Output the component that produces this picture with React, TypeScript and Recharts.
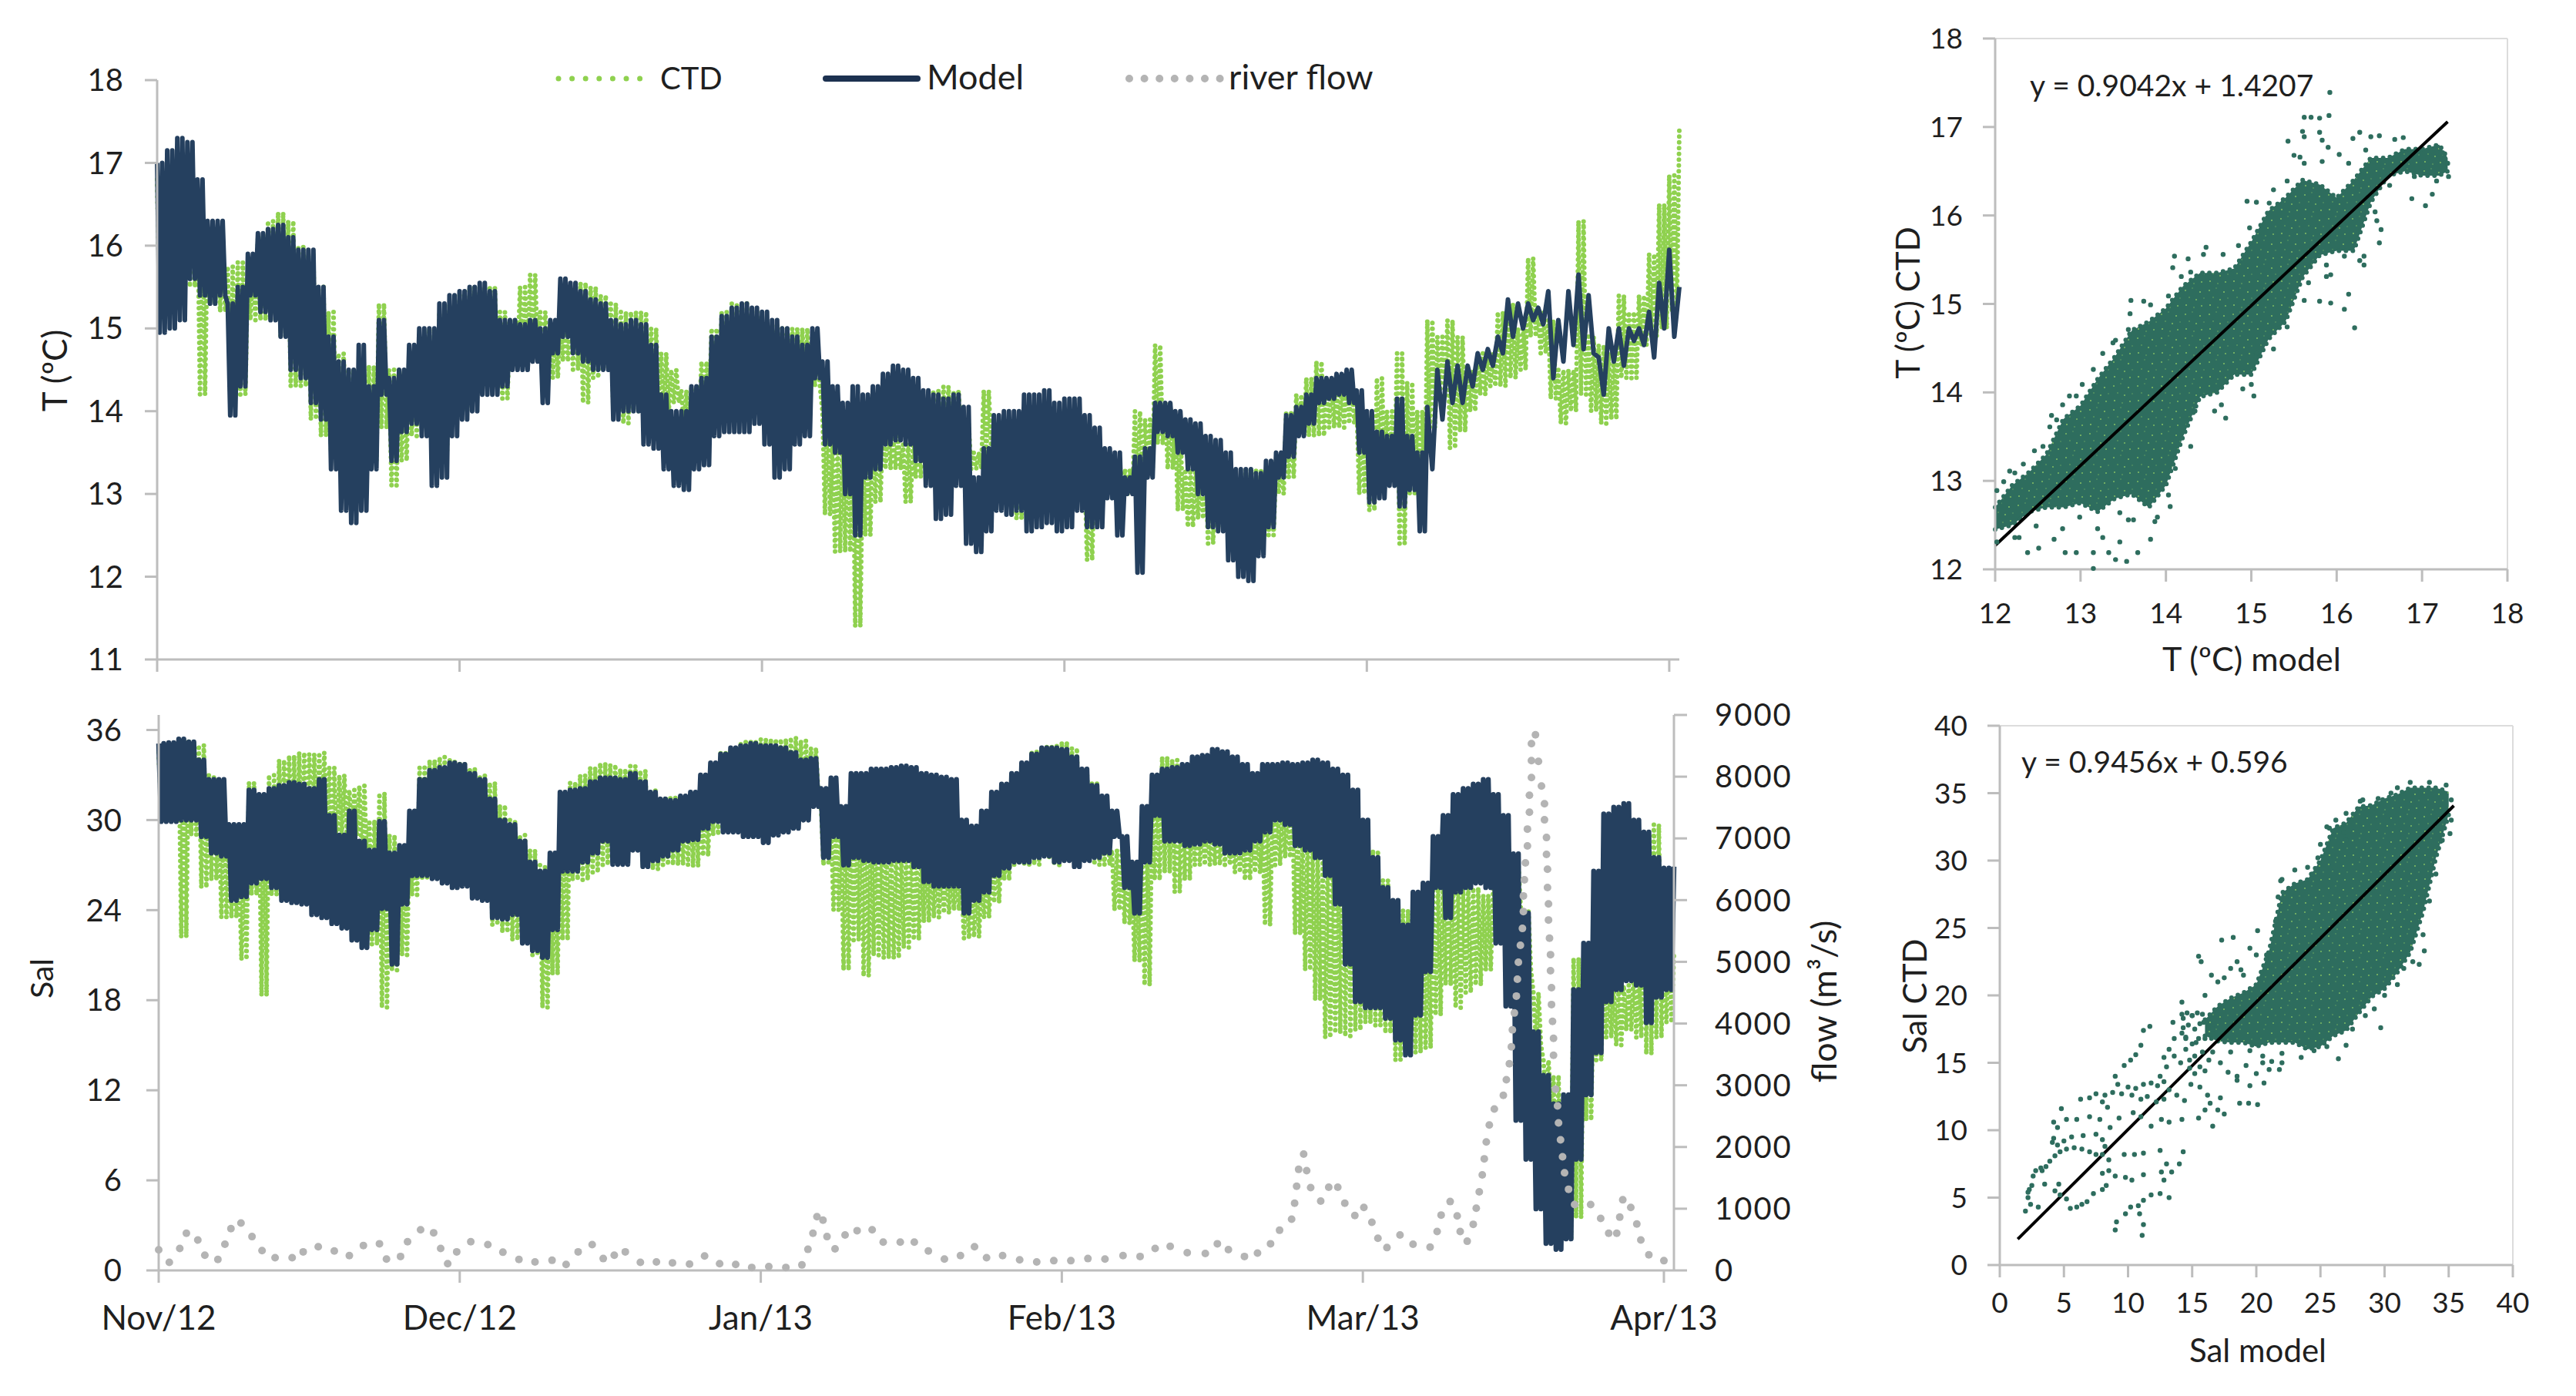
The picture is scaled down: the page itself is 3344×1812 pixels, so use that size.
// Estuary temperature / salinity: time series on the left, model vs CTD scatter on the right
import { ComposedChart, Area, Line, XAxis, YAxis, ReferenceLine } from 'recharts';

const monthLabels = ['Nov/12', 'Dec/12', 'Jan/13', 'Feb/13', 'Mar/13', 'Apr/13'];
const monthTicks = [0, 30, 60, 90, 120, 150];
const tempTicks = [11, 12, 13, 14, 15, 16, 17, 18];
const salTicks = [0, 6, 12, 18, 24, 30, 36];
const flowTicks = [0, 1000, 2000, 3000, 4000, 5000, 6000, 7000, 8000, 9000];
const scatterTempTicks = [12, 13, 14, 15, 16, 17, 18];
const scatterSalTicks = [0, 5, 10, 15, 20, 25, 30, 35, 40];

// one value per day, upper and lower edge of the tidal swing
const tempModelHi = [
  17, 17.15, 17.3, 17.25, 16.8, 16.3, 16.3, 15.3, 15.5, 15.9,
  16.15, 16.2, 16.25, 16.1, 15.95, 15.95, 15.5, 14.9, 14.6, 14.5,
  14.8, 14.3, 15.1, 14.4, 14.5, 14.8, 15, 15, 15.3, 15.4,
  15.45, 15.5, 15.55, 15.45, 15.1, 15.1, 15.05, 15.1, 15, 15.1,
  15.6, 15.55, 15.45, 15.35, 15.3, 15.1, 15.05, 15.1, 15.05, 14.8,
  14.2, 14, 14, 14.3, 14.4, 14.9, 15.15, 15.25, 15.3, 15.25,
  15.2, 15.1, 15, 14.9, 14.8, 15, 14.6, 14.3, 14.1, 14.3,
  14.2, 14.3, 14.45, 14.55, 14.5, 14.4, 14.25, 14.2, 14.15, 14.2,
  14.05, 13.2, 13.55, 13.95, 14, 14, 14.2, 14.2, 14.25, 14.1,
  14.15, 14.15, 13.95, 13.8, 13.55, 13.5, 13.2, 13.45, 13.55, 14.1,
  14.1, 14, 13.9, 13.85, 13.7, 13.65, 13.5, 13.3, 13.3, 13.25,
  13.4, 13.5, 13.95, 14.05, 14.2, 14.4, 14.4, 14.45, 14.5, 14.25,
  14, 13.75, 13.7, 14.15, 13.7, 13.5, 14.05, 14.5, 14.6, 14.55,
  14.55, 14.7, 14.75, 14.9, 15.35, 15.3, 15.3, 15.25, 15.45, 15.1,
  15.45, 15.65, 15.4, 14.65, 15, 15, 15, 15, 15.2, 15.55,
  15.95, 15.5,
];
const tempModelLo = [
  14.95, 15, 15.1, 15.6, 15.4, 15.3, 15.4, 13.95, 14.3, 15.4,
  15.2, 15.1, 14.9, 14.5, 14.4, 14.1, 13.9, 13.3, 12.8, 12.65,
  12.8, 13.3, 14.2, 13.4, 13.75, 13.85, 13.7, 13.1, 13.2, 13.7,
  13.9, 14, 14.2, 14.2, 14.3, 14.5, 14.5, 14.6, 14.1, 14.7,
  14.9, 14.7, 14.6, 14.5, 14.5, 13.9, 14, 14, 13.6, 13.55,
  13.3, 13.1, 13.05, 13.3, 13.35, 13.7, 13.75, 13.75, 13.75, 13.85,
  13.6, 13.2, 13.3, 13.6, 13.7, 14.4, 13.6, 13.5, 13, 12.5,
  13.2, 13.3, 13.6, 13.65, 13.6, 13.4, 13.1, 12.7, 12.75, 13.1,
  12.4, 12.3, 12.55, 12.8, 12.75, 12.8, 12.55, 12.6, 12.65, 12.55,
  12.6, 12.8, 12.6, 12.6, 12.95, 12.5, 13, 12.05, 13.2, 13.75,
  13.7, 13.5, 13.3, 13, 12.6, 12.55, 12.2, 12, 11.95, 12.25,
  12.6, 13.2, 13.45, 13.7, 13.85, 14.1, 14.15, 14.2, 14.1, 13.5,
  12.9, 12.95, 13.1, 12.85, 13.05, 12.55, 13.3, 13.9, 14.1, 14.1,
  14.3, 14.5, 14.55, 14.7, 14.9, 15, 15.1, 15.05, 14.4, 14.6,
  14.8, 14.75, 14.7, 14.2, 14.6, 14.55, 14.85, 14.8, 14.65, 15,
  14.9, 15.3,
];
const tempCtdHi = [
  16.8, 17, 17, 16.9, 16.5, 16.2, 16, 15.75, 15.8, 15.75,
  16.1, 16.3, 16.4, 16.3, 16, 15.9, 15.5, 15.2, 14.7, 14.5,
  14.5, 14.55, 15.3, 14.5, 14.5, 14.7, 14.9, 15, 15.2, 15.3,
  15.4, 15.5, 15.5, 15.5, 15.2, 15.1, 15.5, 15.65, 15.2, 15,
  15.2, 15.4, 15.55, 15.5, 15.4, 15.3, 15.2, 15.2, 15.2, 15,
  14.7, 14.5, 14.25, 14.3, 14.6, 15, 15.2, 15.3, 15.3, 15.2,
  15.05, 15.05, 15, 15, 15, 14.8, 14, 13.6, 13.7, 13.9,
  13.5, 14, 13.9, 13.7, 13.6, 13.7, 14.1, 14.25, 14.3, 14.25,
  13.85, 13.5, 14.25, 13.5, 13.3, 13.4, 13.6, 13.6, 13.6, 13.6,
  13.6, 13.6, 13.3, 13.4, 13.4, 13.3, 13.3, 14, 13.9, 14.8,
  14.1, 13.85, 13.3, 13.3, 13.3, 13.2, 13.2, 13.2, 13.3, 13.3,
  13.3, 13.4, 14, 14.2, 14.4, 14.6, 14.4, 14.3, 14.4, 14,
  13.9, 14.4, 14, 14.7, 14.35, 14, 15.1, 14.9, 15.1, 14.9,
  14.5, 14.7, 14.7, 15.2, 15.3, 15, 15.85, 15.2, 15.1, 14.5,
  14.5, 16.3, 14.9, 14.8, 14.7, 15.4, 15.2, 15.4, 15.9, 16.5,
  16.85, 17.4,
];
const tempCtdLo = [
  15.2, 15.3, 15.5, 15.5, 14.2, 15.3, 15.2, 14.2, 14.2, 15.1,
  15.1, 15.1, 14.9, 14.3, 14.3, 13.9, 13.7, 13.5, 13.5, 13.3,
  13.3, 13.4, 13.8, 13.1, 13.4, 13.7, 13.8, 13.5, 13.5, 13.9,
  14, 14.2, 14.4, 14.4, 14.15, 14.6, 14.6, 14.7, 14.6, 14.4,
  14.6, 14.5, 14.1, 14.4, 14.5, 14, 13.85, 14, 14, 14,
  14, 14.1, 13.8, 13.8, 14, 14.2, 14.2, 14.3, 14.3, 14.3,
  14.3, 14.3, 14.3, 14.3, 14.3, 14.3, 12.75, 12.3, 12.3, 11.4,
  12.5, 12.9, 13.3, 13.3, 12.9, 13.2, 13.4, 13.5, 13.6, 13.7,
  13.3, 13.3, 13.5, 13.2, 13, 12.7, 13, 13, 13, 13,
  13, 13, 12.2, 13, 13, 13, 13, 13, 13.3, 13.6,
  13.3, 12.8, 12.6, 12.7, 12.4, 12.6, 12.4, 12.4, 12.5, 12.5,
  12.5, 13, 13.2, 13.7, 13.7, 13.7, 13.8, 13.8, 13.85, 13,
  12.8, 13.3, 13.3, 12.4, 13, 13, 13.8, 14.2, 13.55, 13.75,
  14, 14.2, 14.3, 14.3, 14.4, 14.5, 14.9, 14.7, 14.15, 13.85,
  14, 14.2, 14, 13.85, 13.9, 14.4, 14.4, 14.8, 14.9, 15,
  15.2, 15.4,
];

const salModelHi = [
  35.1, 35.15, 35.4, 35.2, 34, 32.7, 32.7, 29.7, 29.7, 32,
  31.7, 32.1, 32.3, 32.5, 32.4, 32.1, 32.7, 30.3, 29, 30.6,
  28.6, 28, 29.9, 27.8, 28.3, 30.6, 32.7, 33.3, 33.5, 33.8,
  33.7, 33.1, 32.7, 31.4, 30, 29.7, 28.6, 27.2, 26.6, 27.8,
  31.85, 32, 32.1, 32.55, 32.8, 32.8, 32.7, 33.1, 32.55, 31.85,
  31.4, 31.3, 31.6, 31.85, 33, 33.8, 34.4, 34.8, 34.95, 35.1,
  34.95, 34.95, 34.8, 34.5, 34, 34.1, 32.1, 32.8, 30.9, 33.1,
  33.1, 33.4, 33.4, 33.5, 33.6, 33.5, 33.1, 33, 32.85, 32.7,
  30, 29.6, 30.6, 31.85, 32.4, 33.1, 33.8, 34.4, 34.8, 34.8,
  34.7, 34.2, 33.4, 32.3, 31.6, 30.6, 28.9, 27.2, 30.9, 33,
  33.4, 33.5, 33.7, 34.2, 34.3, 34.7, 34.55, 34.2, 33.7, 33.1,
  33.7, 33.7, 33.8, 33.7, 33.8, 34, 33.8, 33.4, 33, 32,
  30, 27.5, 25.5, 24.65, 23, 25.2, 25.8, 28.9, 30.3, 31.7,
  32.1, 32.4, 32.7, 31.7, 30.3, 27.75, 23.8, 15.9, 13, 11.1,
  11.7, 18.7, 21.8, 26.6, 30.4, 30.85, 31.1, 30, 29.2, 27.5,
  26.8, 26.9,
];
const salModelLo = [
  29.9, 29.9, 30, 30, 28.9, 27.8, 27.6, 24.65, 24.9, 25.8,
  26.1, 25.5, 24.65, 24.5, 24.4, 23.7, 23.5, 23.1, 22.8, 22,
  21.5, 22.7, 24.1, 20.4, 24.4, 26.3, 26.3, 26.1, 25.8, 25.5,
  25.6, 24.8, 24.65, 23.5, 23.4, 23.7, 21.8, 21.3, 20.85, 22.7,
  26.6, 26.6, 27.2, 27.8, 28.6, 27.05, 27.05, 28, 26.9, 27.3,
  27.6, 28, 28.6, 28.7, 29.45, 29.9, 29.2, 29.2, 28.9, 28.9,
  28.5, 29, 29.2, 29.45, 30, 30.9, 27.5, 28.9, 27, 27.5,
  27.3, 27.2, 27.2, 27.3, 27.3, 26.9, 25.9, 25.6, 25.6, 25.6,
  23.8, 24.65, 25.2, 26.3, 26.8, 27.2, 27.2, 27.5, 27.6, 27.2,
  27.3, 26.9, 27.3, 27.5, 27.8, 28.9, 25.5, 23.8, 27.2, 30.3,
  28.6, 28.6, 28.3, 28.4, 28.6, 28.4, 27.8, 27.8, 28, 28.6,
  29.2, 30, 29.7, 28.3, 28, 27.5, 26.3, 24.4, 20.4, 17.9,
  17.5, 17.5, 16.8, 15.35, 14.35, 17, 19.9, 25.5, 23.5, 25.2,
  25.5, 25.8, 25.5, 21.8, 17.6, 10, 7.4, 4.1, 1.8, 1.4,
  2.1, 7.4, 11.7, 14.5, 17.9, 18.7, 19.3, 19, 16.5, 18.2,
  18.7, 19.9,
];
const salCtdHi = [
  34.5, 35, 35.2, 35.3, 35, 33, 31, 29, 27, 32.5,
  31, 33, 34, 34.3, 34.5, 34.4, 34.5, 33.5, 33, 32,
  32.3, 30, 31.8, 29, 27, 29, 33.5, 34, 34.2, 34,
  33.8, 33.5, 33, 32.5, 31, 30, 29, 28, 27, 27,
  29.5, 32.5, 33, 33.5, 33.8, 33.7, 33.4, 33.6, 33.3, 32,
  31.5, 31.6, 31.5, 31.7, 32, 33, 34.5, 34.8, 35.2, 35.3,
  35.4, 35.4, 35.4, 35.5, 35.3, 34.8, 31, 30, 30, 30.5,
  32, 30, 29, 28, 28, 28, 28, 27.5, 27, 26.5,
  26, 26, 26.5, 28, 28.5, 30, 33, 34.6, 34.9, 35,
  35.2, 34.8, 33.5, 32.5, 31, 28, 28, 26, 28, 31,
  34.2, 34, 33, 31, 30, 30, 30, 29.5, 29.5, 29.5,
  30, 30.8, 31, 30, 29, 28, 27.5, 27, 33, 30,
  29, 28, 26, 24, 24, 23, 24, 25.5, 26, 25.5,
  25.5, 25.5, 25, 26, 28.6, 27, 24, 18.5, 14, 13,
  11, 20.8, 21, 20, 19.5, 19, 19, 20, 29, 29.7,
  22, 21,
];
const salCtdLo = [
  30.5, 30, 22.2, 29, 25.5, 26, 23.5, 23.5, 20.7, 25,
  18.3, 25, 28, 27, 28, 29, 29, 27, 29, 29,
  27, 21.7, 17.5, 20, 21, 25, 26, 27, 27, 27,
  26, 25, 25, 23, 22.5, 22, 21.8, 21, 17.5, 19.7,
  22, 26, 26, 26.5, 27, 28, 28, 28, 27, 26.7,
  27, 27, 27, 26.9, 27.6, 29, 29.5, 30, 30.5, 30.5,
  31, 31, 31, 31, 31, 31.5, 27, 24, 20, 22,
  19.6, 21, 20.8, 20.8, 21.5, 22, 23.2, 23.5, 23.8, 24,
  22.1, 22.2, 23.5, 24.5, 26, 27, 27, 27, 27.5, 27,
  28, 28, 27.5, 27, 27, 24, 23.1, 20.6, 19, 26,
  26.5, 25.2, 26, 27, 27, 27, 27, 26.5, 26, 26.5,
  23, 27, 27.5, 22.4, 20, 18, 15.5, 15.8, 15.6, 16,
  16.5, 16.3, 15.8, 14, 14.5, 14.5, 14.8, 17, 19, 17.5,
  18.5, 19, 20, 22, 25, 24, 20, 15, 11, 3,
  2.1, 3.5, 10, 14, 15.5, 15, 16, 15.5, 14.4, 15.5,
  16.5, 16.3,
];

// river flow, each dot of the dotted line
const flowDays = [
  0, 1.06, 2.1, 2.76, 3.9, 4.6, 5.9, 6.6, 7.2, 8.2, 9.3, 10.3, 11.6, 13.3, 14.4, 15.9, 17.5, 19, 20.4, 22,
  22.7, 24.1, 24.8, 26.1, 27.4, 28.1, 28.8, 29.7, 31.1, 32.8, 34.3, 35.9, 37.5, 39.2, 40.6, 41.8, 43.2, 44.3, 45.4, 46.5,
  48, 49.6, 51.2, 52.9, 54.4, 55.9, 57.5, 59.1, 60.8, 62.5, 64.1, 64.7, 65.2, 65.6, 66.2, 66.6, 67.4, 68.4, 69.6, 71.1,
  72.2, 73.9, 75.3, 76.7, 78.3, 79.9, 81.3, 82.5, 84.1, 85.8, 87.5, 89.2, 90.9, 92.6, 94.3, 96.1, 97.8, 99.3, 100.8, 102.5,
  104.3, 105.5, 106.6, 108.2, 109.5, 110.8, 111.7, 112.9, 113.2, 113.4, 113.6, 114.4, 114.1, 114.8, 115.8, 116.6, 117.5, 118.2, 119.2, 120.1,
  120.9, 121.5, 122.4, 123.7, 125, 126.7, 127.4, 127.8, 128.7, 129.4, 129.7, 130.4, 131, 131.3, 131.6, 131.9, 132.1, 132.3, 132.6, 133.1,
  134, 134.3, 134.6, 134.8, 134.9, 135.1, 135.3, 135.4, 135.5, 135.7, 135.9, 136, 136, 136.1, 136.2, 136.4, 136.4, 136.6, 136.6, 136.8,
  136.8, 136.8, 137.2, 137.5, 137.8, 138.1, 138.1, 138.3, 138.3, 138.4, 138.4, 138.5, 138.5, 138.6, 138.7, 138.7, 138.8, 138.8, 138.9, 139,
  139, 139.2, 139.4, 139.5, 139.7, 139.9, 140.1, 140.5, 141.1, 142.7, 143.7, 144.5, 145.3, 145.6, 145.9, 146.7, 147.3, 147.7, 148.5, 150,
];
const flowValues = [
  335, 130, 356, 603, 493, 247, 178, 425, 678, 767, 548, 322, 205, 205, 301, 384, 315, 240, 404, 432,
  185, 226, 466, 658, 610, 356, 110, 301, 466, 418, 295, 178, 137, 164, 96, 301, 418, 192, 247, 301,
  130, 137, 123, 103, 233, 110, 96, 48, 62, 48, 89, 342, 603, 870, 815, 548, 349, 575, 644, 658,
  459, 459, 459, 315, 185, 240, 384, 205, 240, 171, 137, 158, 158, 192, 185, 240, 226, 356, 390, 288,
  274, 432, 336, 226, 281, 432, 651, 829, 1089, 1363, 1637, 1616, 1884, 1342, 1123, 1349, 1349, 1089, 890, 1020,
  781, 521, 370, 575, 425, 377, 630, 897, 1116, 884, 630, 473, 747, 1007, 1274, 1548, 1808, 2082, 2356, 2616,
  2836, 3089, 3349, 3623, 3897, 4171, 4445, 4719, 4993, 5267, 5541, 5815, 6068, 6329, 6603, 6877, 7151, 7425, 7699, 7986,
  8260, 8534, 8678, 8247, 7849, 7562, 7301, 7014, 6740, 6500, 6205, 5938, 5678, 5384, 5116, 4856, 4582, 4308, 4034, 3760,
  3486, 2938, 2664, 2390, 2116, 1842, 1582, 1315, 1068, 1068, 842, 603, 603, 863, 1144, 1020, 753, 493, 253, 158,
];

// scatter clouds: dense part as a band, loose points listed one by one
const cloudTempX = [12, 12.2, 12.4, 12.6, 12.8, 13, 13.2, 13.4, 13.6, 13.8, 14, 14.2, 14.4, 14.6, 14.8, 15, 15.2, 15.4, 15.6, 15.8, 16, 16.2, 16.4, 16.6, 16.8, 17, 17.2, 17.3];
const cloudTempHi = [12.7, 12.95, 13.1, 13.3, 13.7, 13.85, 14.15, 14.4, 14.7, 14.8, 14.95, 15.2, 15.35, 15.35, 15.4, 15.7, 16.05, 16.2, 16.4, 16.35, 16.2, 16.4, 16.65, 16.65, 16.75, 16.75, 16.8, 16.65];
const cloudTempLo = [12.45, 12.5, 12.65, 12.7, 12.7, 12.75, 12.65, 12.8, 12.85, 12.7, 12.95, 13.5, 13.95, 14, 14.2, 14.2, 14.6, 14.8, 15.3, 15.55, 15.6, 15.6, 16.15, 16.45, 16.5, 16.45, 16.45, 16.5];
const looseTempX = [
  15.92, 15.91, 15.8, 15.7, 15.62, 15.6, 15.62, 15.8, 15.83, 15.9, 15.43, 15.5, 15.57, 15.83, 16.03, 16.19, 16.27, 16.4, 16.5, 16.68,
  16.78, 16.88, 17.04, 17.12, 17.24, 17.31, 17.3, 16.21, 16.09, 16.14, 15.93, 15.8, 15.88, 15.93, 16.5, 16.52, 16.45, 16.32, 16.27, 14.95,
  15.06, 15.21, 14.47, 14.1, 14.26, 13.59, 13.74, 13.41, 12.87, 12.66, 12.17, 14.7, 14.57, 15.03, 15, 13.15, 13.54, 13.41, 13.15, 12.95,
  12.82, 12.51, 12.38, 12.69, 13.82, 13.67, 13.33, 13.46, 13.87, 14.05, 13.26, 13.56, 12.28,
  12.02, 12.1, 12.23, 12.33, 12.46, 12.56, 12.64, 12.72, 12.79, 12.95, 13.02, 13.15, 13.26, 13.38, 13.56, 13.58, 13.82, 14.03, 14.08, 14.18,
  14.29, 14.44, 14.67, 14.85, 14.98, 15.26, 15.42, 15.62, 16.14, 16.34,
  12.02, 12.23, 12.48, 12.79, 12.99, 13.2, 13.46, 13.62, 13.9, 14.03, 14.11, 14.29, 14.34, 14.65, 14.9, 15.06, 15.26, 15.42, 15.62, 15.67,
  15.88, 16.09, 16.32, 16.47, 16.62, 16.91, 17.17,
];
const looseTempY = [
  17.39, 17.13, 17.1, 17.11, 17.11, 16.95, 16.89, 16.94, 16.85, 16.77, 16.84, 16.68, 16.66, 16.61, 16.69, 16.87, 16.94, 16.89, 16.9, 16.86,
  16.88, 16.19, 16.11, 16.24, 16.71, 16.44, 16.59, 14.73, 14.94, 15.11, 15.01, 15.03, 15.31, 15.33, 15.69, 15.84, 16.04, 15.44, 15.49, 16.16,
  16.15, 16.14, 15.64, 15.54, 15.51, 15.04, 15.03, 14.59, 13.96, 13.74, 13.11, 13.71, 13.79, 13.96, 14.09, 12.01, 12.09, 12.11, 12.19, 12.19,
  12.19, 12.24, 12.19, 12.34, 12.34, 12.19, 12.19, 12.31, 12.54, 12.71, 12.36, 12.56, 12.36,
  12.89, 12.99, 13.09, 13.19, 13.34, 13.39, 13.61, 13.69, 13.86, 13.96, 14.09, 14.26, 14.44, 14.56, 14.71, 14.89, 14.99, 15.09, 15.41, 15.31,
  15.36, 15.56, 15.56, 15.66, 15.86, 16.29, 16.39, 16.59, 16.59, 16.74,
  12.31, 12.36, 12.49, 12.46, 12.59, 12.46, 12.64, 12.56, 12.59, 12.84, 13.14, 13.39, 13.79, 13.86, 14.04, 14.44, 14.49, 14.74, 15.04, 15.24,
  15.44, 15.54, 15.54, 15.94, 16.34, 16.44, 16.39,
];
const trendTempX = [12, 17.3];
const trendTempY = [12.27, 17.06];

const cloudSalX = [16, 17, 18, 19, 20, 21, 22, 23, 24, 25, 26, 27, 28, 29, 30, 31, 32, 33, 34, 35];
const cloudSalHi = [18.2, 19.2, 19.8, 20.2, 20.8, 23.3, 27.6, 28.3, 28.6, 30, 32.4, 32.8, 34, 34.1, 34.6, 34.9, 35.4, 35.4, 35.4, 35.1];
const cloudSalLo = [17, 16.6, 16.5, 16.5, 16.2, 16.5, 16.5, 16.5, 16, 16.2, 17, 17.4, 18.7, 19.9, 20.5, 21.7, 23.2, 26.2, 30.2, 33.4];
const looseSalX = [
  2, 2.2, 2.3, 2.5, 2.2, 2.6, 2.8, 3.2, 3.6, 3.9, 4.3, 4.7, 5.2, 5.8, 6.4, 7, 7.5, 8, 4.2, 4.5,
  4.2, 4.1, 4.5, 5, 5.6, 6.5, 7.5, 8, 8.2, 8.5, 8.5, 9, 9.8, 2.4, 3, 3.3, 3.5, 4.6, 4.3, 4.7,
  5.2, 5.5, 6, 6.4, 6.8, 7.3, 8, 8.3, 8, 4.8, 5.2, 6, 6.3, 7, 7.5, 8, 8.4, 8.8, 9.5, 10,
  10.6, 11.2, 11.8, 12.3, 12.8, 13.2, 13.8, 14.4, 11.5, 12.2, 12.8, 9, 9.7, 10.2, 10.6, 11, 11.2, 11.7, 12.8, 13.2,
  13.6, 14.2, 14.1, 14.8, 15.2, 16, 7, 7.8, 8.6, 9.3, 10.4, 11, 11.8, 12.6, 13.2, 14.2, 15.5, 16, 16.4, 17,
  17.5, 16.6, 18.7, 19.4, 20.1, 19.5, 20.6, 21, 21.8, 22, 21.2, 18.5, 9.7, 10.5, 11.2, 12.5, 13, 14, 14.3, 12.8,
  13.2, 12.5, 11.8, 11.2, 10.8, 10.2, 9.8, 9.1, 9, 10.9, 11.2, 11.1, 10.3, 11.2, 12.6, 13.4, 15.7, 15.5, 16.5, 17.3,
  18.2, 18.5, 17.5, 18.8, 19.5, 20.1, 14.2, 14.3, 15, 15.9, 16.6, 15.3, 14.5, 26.4, 29.7, 26, 32.7, 33.1, 26.8, 24.4,
  21.9, 27, 28.1, 25.7,
  20.8, 21.5, 21.7, 22, 23, 24, 24.8, 25, 25.5, 26.2, 27, 28.3, 29.5, 30.5, 31, 32, 33.5, 34.8, 35.2, 35.2,
  18, 19.5, 20.5, 22, 23.5, 24.5, 25.5, 27, 27.5, 28.5, 29.2, 30, 31, 31.5, 32.2, 33, 33.5, 34, 34.5, 35.1,
  14.5, 13.5, 16, 17, 18, 19, 20,
  14.2, 14.6, 15, 15.4, 15.8, 14.3, 14.7, 15.2, 15.6, 14.5, 15, 15.5, 15.8, 16, 15.2, 14.8, 15.6, 16.3, 16.6, 17.2,
  17.8, 18.5, 19.2, 20, 20.5, 13.6, 13, 12.5, 11, 10.3, 9.2, 14.9, 15.6, 16.2, 17.2, 8.2,
];
const looseSalY = [
  4, 5, 5.6, 5.9, 5.4, 6.6, 7, 7.2, 7.3, 7.7, 8.1, 8.4, 8.6, 8.7, 8.6, 8.4, 8.2, 8.2, 10.6, 10.2,
  9.4, 9.1, 8.9, 9.2, 9.5, 9.6, 9.7, 9.3, 8.8, 7.8, 7, 6.6, 6.5, 4.5, 4.3, 7, 6, 6, 5.5, 5.2,
  4.9, 4.2, 4.3, 4.5, 4.7, 5.3, 5.6, 5.9, 6.8, 11.6, 10.8, 10.8, 12.3, 12.4, 12.7, 12.1, 11.7, 12.8, 12.7, 13.2,
  13.1, 13.4, 13.5, 13.3, 13.6, 13, 12.6, 12.2, 12.5, 12.1, 12.3, 14, 14.8, 15.2, 15.6, 16.3, 17.4, 17.7, 15.4, 16,
  16.8, 17.2, 15, 15.2, 14.2, 14.4, 11, 10.8, 10.2, 10.9, 11.3, 11, 10.3, 10.8, 10.6, 10.8, 10.9, 11.5, 12, 11.5,
  11.2, 10.3, 12, 12, 11.9, 13.3, 13.5, 14.5, 14.5, 15, 15.1, 13.7, 8.2, 8.2, 8.3, 8.5, 7.5, 7.5, 8.4, 6.3,
  5, 5.3, 5.2, 4.8, 4.4, 4.3, 3.8, 3.2, 2.6, 3.8, 3, 2.2, 6.3, 6.7, 6.9, 6.9, 22.5, 22.9, 21.5, 24.1,
  24.3, 22.5, 21.3, 21.9, 23.5, 24.8, 19.5, 18.3, 18.5, 18, 17.5, 16.5, 16, 15.3, 17.6, 18.2, 22.3, 23.3, 32.1, 29,
  28.5, 31.5, 34.4, 32.4,
  23, 25.5, 27.3, 28.6, 29.3, 29.5, 30.2, 31.2, 32.5, 33, 33.5, 34.5, 34.6, 35, 35.4, 35.8, 35.8, 35.6, 34.5, 33,
  15.8, 15.9, 15.5, 15.7, 15.4, 15.9, 16.2, 16.3, 17.5, 18.5, 19, 20, 20.8, 22, 22.5, 24.5, 27, 29, 31.5, 32,
  16.8, 18, 20, 21, 22, 21.5, 23,
  18.6, 18.7, 18.5, 18.7, 18.6, 17.6, 17.8, 17.5, 17.9, 16.9, 16.4, 16.8, 15.8, 16.8, 15.5, 14.6, 14.7, 15.2, 15.8, 15,
  14.3, 14, 14.8, 14.2, 15, 15.5, 14.7, 14, 12.3, 12.6, 13.4, 13.4, 13.2, 12.6, 12.4, 12.6,
];
const trendSalX = [1.4, 35.4];
const trendSalY = [1.92, 34.07];

const legendNames = ['CTD', 'Model', 'river flow'];

const FONT = 'Lato, sans-serif';
const INK = '#1f1f1f';
const AXIS = '#bdbdbd';
const GREEN = '#8fd14f';
const NAVY = '#25405f';
const GREY = '#b4b4b4';
const TEAL = '#2e6d5e';

const axisLine = { stroke: AXIS, strokeWidth: 3 };
const tickFont = { fontSize: 40, fill: INK, fontFamily: FONT };
const monthFont = { fontSize: 44, fill: INK, fontFamily: FONT };
const flowFont = { fontSize: 40, fill: INK, fontFamily: FONT, letterSpacing: 2 };
const smallTick = { fontSize: 37, fill: INK, fontFamily: FONT };

// swing between the day's two read extremes; cycles = swings per day
function swingRows(key: string, hi: number[], lo: number[], cycles: (day: number) => number) {
  const rows: any[] = [];
  hi.forEach((h, d) => {
    const steps = cycles(d) * 2;
    for (let k = 0; k < steps; k++) {
      const day = d + k / steps;
      if (day <= 151) rows.push({ day, [key]: k % 2 === 0 ? h : lo[d] });
    }
  });
  return rows;
}
function bandRows(xs: number[], hi: number[], lo: number[]) {
  return xs.map((x, i) => ({ x, band: [lo[i], hi[i]] }));
}
function pointRows(xs: number[], ys: number[]) {
  return xs.map((x, i) => ({ x, y: ys[i] }));
}

const tempModelRows = swingRows('model', tempModelHi, tempModelLo, (d) => (d < 126 ? 2 : 1));
const tempCtdRows = swingRows('ctd', tempCtdHi, tempCtdLo, () => 2);
const salModelRows = swingRows('model', salModelHi, salModelLo, () => 2);
const salCtdRows = swingRows('ctd', salCtdHi, salCtdLo, () => 2);
const flowRows = flowDays.map((day, i) => ({ day, flow: flowValues[i] }));

function Patterns() {
  return (
    <defs>
      <pattern id="cloudSpeck" width={31} height={31} patternUnits="userSpaceOnUse">
        <rect width={31} height={31} fill={TEAL} />
        <circle cx={3} cy={5} r={1} fill="#7dbb63" />
        <circle cx={12} cy={2} r={0.8} fill="#5f9f62" />
        <circle cx={22} cy={7} r={1} fill="#86c264" />
        <circle cx={8} cy={14} r={0.8} fill="#6fae60" />
        <circle cx={17} cy={17} r={1} fill="#7dbb63" />
        <circle cx={27} cy={15} r={0.8} fill="#5f9f62" />
        <circle cx={4} cy={24} r={1} fill="#86c264" />
        <circle cx={14} cy={27} r={0.8} fill="#6fae60" />
        <circle cx={24} cy={25} r={1} fill="#7dbb63" />
      </pattern>
    </defs>
  );
}

function Legend() {
  return (
    <svg style={{ position: 'absolute', left: 0, top: 0 }} width={2300} height={140}>
      <line x1={725} x2={831} y1={102} y2={102} stroke={GREEN} strokeWidth={7} strokeLinecap="round" strokeDasharray="0 17.6" />
      <text x={857} y={116} fontSize={40} fontFamily={FONT} fill={INK}>{legendNames[0]}</text>
      <line x1={1072} x2={1191} y1={102} y2={102} stroke="#1c3150" strokeWidth={8} strokeLinecap="round" />
      <text x={1203} y={116} fontSize={45} fontFamily={FONT} fill={INK}>{legendNames[1]}</text>
      <line x1={1466} x2={1584} y1={102} y2={102} stroke={GREY} strokeWidth={10} strokeLinecap="round" strokeDasharray="0 19.6" />
      <text x={1595} y={116} fontSize={45} fontFamily={FONT} fill={INK}>{legendNames[2]}</text>
    </svg>
  );
}

function TempChart() {
  return (
    <div style={{ position: 'absolute', left: 0, top: 0 }}>
      <ComposedChart width={2300} height={960} data={tempModelRows} margin={{ top: 104, left: 104, right: 120, bottom: 44 }}>
        <XAxis dataKey="day" type="number" domain={[0, 151]} ticks={monthTicks} interval={0} height={60} tickSize={16}
          axisLine={axisLine} tickLine={axisLine} tickFormatter={() => ''} />
        <YAxis domain={[11, 18]} ticks={tempTicks} interval={0} width={100} tickSize={16} tickMargin={28}
          axisLine={axisLine} tickLine={axisLine} tick={tickFont} />
        <Line data={tempCtdRows} dataKey="ctd" stroke={GREEN} strokeWidth={6} strokeLinecap="round" strokeDasharray="0 7.5"
          dot={false} activeDot={false} isAnimationActive={false} />
        <Line dataKey="model" stroke={NAVY} strokeWidth={6} strokeLinejoin="round"
          dot={false} activeDot={false} isAnimationActive={false} />
        <text transform="translate(87 481) rotate(-90)" textAnchor="middle" fontSize={44} fontFamily={FONT} fill={INK}>T (ºC)</text>
      </ComposedChart>
    </div>
  );
}

function SalChart() {
  return (
    <div style={{ position: 'absolute', left: 0, top: 900 }}>
      <ComposedChart width={2400} height={912} data={salModelRows} margin={{ top: 28, left: 106, right: 127, bottom: 103 }}>
        <XAxis dataKey="day" type="number" domain={[0, 151]} ticks={monthTicks} interval={0} height={60} tickSize={16} tickMargin={30}
          axisLine={axisLine} tickLine={axisLine} tick={monthFont} tickFormatter={(v: number) => monthLabels[v / 30]} />
        <YAxis yAxisId="sal" domain={[0, 37]} ticks={salTicks} interval={0} width={100} tickSize={16} tickMargin={32}
          axisLine={axisLine} tickLine={axisLine} tick={tickFont} />
        <YAxis yAxisId="flow" orientation="right" domain={[0, 9000]} ticks={flowTicks} interval={0} width={100} tickSize={17} tickMargin={36}
          axisLine={axisLine} tickLine={axisLine} tick={flowFont} />
        <Line yAxisId="sal" data={salCtdRows} dataKey="ctd" stroke={GREEN} strokeWidth={6} strokeLinecap="round" strokeDasharray="0 7.5"
          dot={false} activeDot={false} isAnimationActive={false} />
        <Line yAxisId="sal" dataKey="model" stroke={NAVY} strokeWidth={6.5} strokeLinejoin="round"
          dot={false} activeDot={false} isAnimationActive={false} />
        <Line yAxisId="flow" data={flowRows} dataKey="flow" stroke="none" dot={{ r: 5, fill: GREY, stroke: 'none' }}
          activeDot={false} isAnimationActive={false} />
        <text transform="translate(69 370) rotate(-90)" textAnchor="middle" fontSize={41} fontFamily={FONT} fill={INK}>Sal</text>
        <text transform="translate(2384 400) rotate(-90)" textAnchor="middle" fontSize={45} fontFamily={FONT} fill={INK}>flow (m³/s)</text>
      </ComposedChart>
    </div>
  );
}

function ScatterTemp() {
  return (
    <div style={{ position: 'absolute', left: 2400, top: 0 }}>
      <ComposedChart width={944} height={900} data={bandRows(cloudTempX, cloudTempHi, cloudTempLo)}
        margin={{ top: 50, left: 90, right: 89, bottom: 101 }}>
        <Patterns />
        <XAxis dataKey="x" type="number" domain={[12, 18]} ticks={scatterTempTicks} interval={0} height={60} tickSize={16} tickMargin={28}
          axisLine={axisLine} tickLine={axisLine} tick={smallTick} />
        <YAxis domain={[12, 18]} ticks={scatterTempTicks} interval={0} width={100} tickSize={16} tickMargin={26}
          axisLine={axisLine} tickLine={axisLine} tick={smallTick} />
        <ReferenceLine y={18} stroke="#dcdcdc" strokeWidth={2} />
        <ReferenceLine x={18} stroke="#dcdcdc" strokeWidth={2} />
        <Area dataKey="band" type="linear" fill="url(#cloudSpeck)" fillOpacity={1} stroke={TEAL} strokeWidth={6}
          strokeLinecap="round" strokeDasharray="0 9" dot={false} activeDot={false} isAnimationActive={false} />
        <Line data={pointRows(looseTempX, looseTempY)} dataKey="y" stroke="none" dot={{ r: 3.2, fill: TEAL, stroke: 'none' }}
          activeDot={false} isAnimationActive={false} />
        <Line data={pointRows(trendTempX, trendTempY)} dataKey="y" stroke="#000000" strokeWidth={4} dot={false}
          activeDot={false} isAnimationActive={false} />
        <text x={235} y={125} fontSize={39} fontFamily={FONT} fill={INK}>y = 0.9042x + 1.4207</text>
        <text transform="translate(92 393) rotate(-90)" textAnchor="middle" fontSize={42} fontFamily={FONT} fill={INK}>T  (ºC) CTD</text>
        <text x={523} y={871} textAnchor="middle" fontSize={43} fontFamily={FONT} fill={INK}>T  (ºC) model</text>
      </ComposedChart>
    </div>
  );
}

function ScatterSal() {
  return (
    <div style={{ position: 'absolute', left: 2400, top: 900 }}>
      <ComposedChart width={944} height={912} data={bandRows(cloudSalX, cloudSalHi, cloudSalLo)}
        margin={{ top: 42, left: 96, right: 82, bottom: 110 }}>
        <Patterns />
        <XAxis dataKey="x" type="number" domain={[0, 40]} ticks={scatterSalTicks} interval={0} height={60} tickSize={16} tickMargin={20}
          axisLine={axisLine} tickLine={axisLine} tick={smallTick} />
        <YAxis domain={[0, 40]} ticks={scatterSalTicks} interval={0} width={100} tickSize={16} tickMargin={26}
          axisLine={axisLine} tickLine={axisLine} tick={smallTick} />
        <ReferenceLine y={40} stroke="#dcdcdc" strokeWidth={2} />
        <ReferenceLine x={40} stroke="#dcdcdc" strokeWidth={2} />
        <Area dataKey="band" type="linear" fill="url(#cloudSpeck)" fillOpacity={1} stroke={TEAL} strokeWidth={6}
          strokeLinecap="round" strokeDasharray="0 9" dot={false} activeDot={false} isAnimationActive={false} />
        <Line data={pointRows(looseSalX, looseSalY)} dataKey="y" stroke="none" dot={{ r: 3.2, fill: TEAL, stroke: 'none' }}
          activeDot={false} isAnimationActive={false} />
        <Line data={pointRows(trendSalX, trendSalY)} dataKey="y" stroke="#000000" strokeWidth={4} dot={false}
          activeDot={false} isAnimationActive={false} />
        <text x={224} y={103} fontSize={39} fontFamily={FONT} fill={INK}>y = 0.9456x + 0.596</text>
        <text transform="translate(101 393) rotate(-90)" textAnchor="middle" fontSize={42} fontFamily={FONT} fill={INK}>Sal CTD</text>
        <text x={531} y={868} textAnchor="middle" fontSize={42} fontFamily={FONT} fill={INK}>Sal model</text>
      </ComposedChart>
    </div>
  );
}

export default function App() {
  return (
    <div style={{ position: 'absolute', left: 0, top: 0, width: 3344, height: 1812, background: '#ffffff', overflow: 'hidden' }}>
      <TempChart />
      <SalChart />
      <ScatterTemp />
      <ScatterSal />
      <Legend />
    </div>
  );
}
